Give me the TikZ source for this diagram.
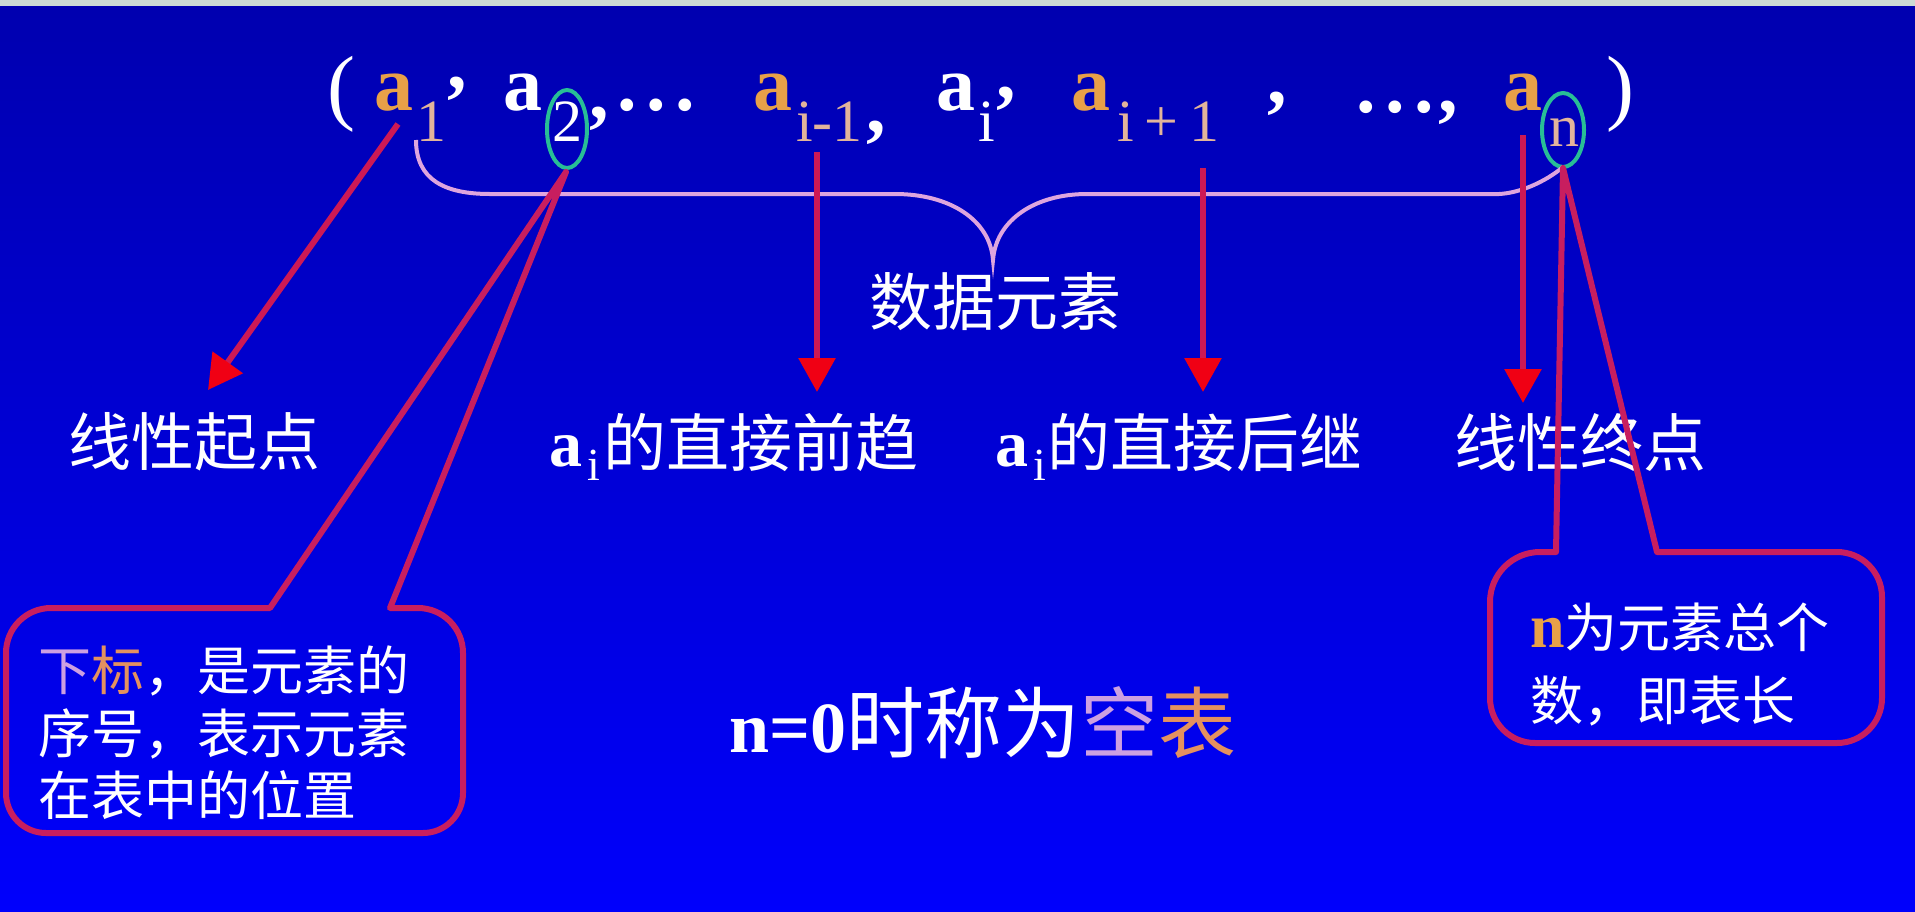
\documentclass[tikz,border=0pt]{standalone}
\usepackage{fontspec}
\setmainfont{Liberation Serif}
\newfontfamily\cjk{Noto Sans CJK SC}
\usetikzlibrary{arrows.meta}
\definecolor{bgtop}{RGB}{0,0,175}
\definecolor{bgbot}{RGB}{0,0,252}
\definecolor{strip}{RGB}{204,219,212}
\definecolor{orangeA}{RGB}{232,160,72}
\definecolor{tan}{RGB}{226,180,155}
\definecolor{bracec}{RGB}{222,165,222}
\definecolor{ellc}{RGB}{40,190,150}
\definecolor{shaft}{RGB}{205,25,85}
\definecolor{headc}{RGB}{240,0,20}
\definecolor{boxc}{RGB}{200,30,95}
\definecolor{lav}{RGB}{205,160,225}
\definecolor{ora}{RGB}{228,145,95}
\newcommand\fsz[1]{\fontsize{#1}{#1}\selectfont}
\begin{document}
\begin{tikzpicture}[x=1pt,y=-1pt,
  txt/.style={inner sep=0pt,outer sep=0pt,text=white},
  fa/.style={txt,anchor=base west,font=\fsz{78}\bfseries},
  fs/.style={txt,anchor=base west,font=\fsz{60}},
  paren/.style={txt,anchor=base west,font=\fsz{84}},
  lbl/.style={txt,font=\cjk\fsz{63}},
  arr/.style={draw=shaft,line width=6pt,-{Triangle[width=36pt,length=34pt,color=headc]}},
  boxline/.style={draw=boxc,line width=6pt,line join=round},
  ell/.style={draw=ellc,line width=4pt},
  bracel/.style={draw=bracec,line width=4pt}]
\shade[top color=bgtop,bottom color=bgbot] (0,0) rectangle (1915,911);
\fill[strip] (0,0) rectangle (1915,6);
\useasboundingbox (0,0) rectangle (1915,911);

% formula
\node[paren] (lp) at (327,114) {(};
\node[fa,text=orangeA] (a1) at (374,110) {a};
\node[fs,text=tan] (s1) at (416,141) {1};
\node[fa] (c1) at (447,88) {,};
\node[fa] (a2) at (503,110) {a};
\node[fs] (s2) at (552,141) {2};
\node[fa] (c2) at (589,118) {,};
\node[fa] (d1) at (617,110) {.\hspace{10pt}.\hspace{10pt}.};
\node[fa,text=orangeA] (a3) at (753,110) {a};
\node[fs,text=tan] (s3) at (796,141) {i-1};
\node[fa] (c3) at (866,132) {,};
\node[fa] (a4) at (936,110) {a};
\node[fs] (s4) at (978,141) {i};
\node[fa] (c4) at (996,98) {,};
\node[fa,text=orangeA] (a5) at (1071,110) {a};
\node[fs,text=tan] (s5) at (1117,141) {i\hspace{0.18em}+\hspace{0.18em}1};
\node[fa] (c5) at (1267,103) {,};
\node[fa] (d2) at (1356,112) {.\hspace{10pt}.\hspace{10pt}.\hspace{4pt},};
\node[fa,text=orangeA] (a6) at (1503,110) {a};
\node[fs,text=tan] (s6) at (1549,146) {n};
\node[paren] (rp) at (1606,114) {)};

% ellipses
\draw[ell] (567,129) ellipse [x radius=20,y radius=39];
\draw[ell] (1563,130) ellipse [x radius=21,y radius=37];

% brace
\draw[bracel] (416,140) .. controls (416,180) and (445,194) .. (490,194) -- (895,194)
  .. controls (950,194) and (990,220) .. (993,260)
  .. controls (996,220) and (1035,194) .. (1087,194) -- (1499,194)
  .. controls (1520,193) and (1545,182) .. (1563,167);
\node[lbl] (data) at (995,302) {数据元素};

% labels
\node[lbl] (start) at (194,442) {线性起点};
\node[txt,anchor=base west] (pre) at (549,466) {{\fsz{66}\bfseries a}\hspace{5pt}\raisebox{-14pt}{\fsz{46}i}\hspace{4pt}{\cjk\fsz{63}的直接前趋}};
\node[txt,anchor=base west] (suc) at (995,466) {{\fsz{66}\bfseries a}\hspace{5pt}\raisebox{-14pt}{\fsz{46}i}\hspace{2pt}{\cjk\fsz{63}的直接后继}};
\node[lbl] (end) at (1580,442) {线性终点};

% arrows
\coordinate (t1) at (398,124); \coordinate (h1) at (208,390);
\coordinate (t2) at (817,152); \coordinate (h2) at (817,392);
\coordinate (t3) at (1203,168); \coordinate (h3) at (1203,392);
\coordinate (t4) at (1523,135); \coordinate (h4) at (1523,403);
\draw[arr] (t1) -- (h1);
\draw[arr] (t2) -- (h2);
\draw[arr] (t3) -- (h3);
\draw[arr] (t4) -- (h4);

% left callout
\coordinate (apexL) at (566,172);
\draw[boxline] (390,608) -- (418,608) arc[start angle=270,end angle=360,radius=45]
  -- (463,793) arc[start angle=0,end angle=90,radius=40]
  -- (46,833) arc[start angle=90,end angle=180,radius=40]
  -- (6,653) arc[start angle=180,end angle=270,radius=45]
  -- (270,608) -- (apexL) -- cycle;
\node[txt,anchor=base west] (lb1) at (38,690) {\cjk\fsz{53}{\color{lav}下}{\color{ora}标}，是元素的};
\node[txt,anchor=base west] (lb2) at (38,753) {\cjk\fsz{53}序号，表示元素};
\node[txt,anchor=base west] (lb3) at (38,815) {\cjk\fsz{53}在表中的位置};

% right callout
\coordinate (apexR) at (1563,168);
\draw[boxline] (1657,552) -- (1837,552) arc[start angle=-90,end angle=0,radius=45]
  -- (1882,698) arc[start angle=0,end angle=90,radius=45]
  -- (1535,743) arc[start angle=90,end angle=180,radius=45]
  -- (1490,602) arc[start angle=180,end angle=270,radius=50]
  -- (1556,552) -- (apexR) -- cycle;
\node[txt,anchor=base west] (rb1) at (1530,647) {{\fsz{62}\bfseries\color{orangeA}n}{\cjk\fsz{53}为元素总个}};
\node[txt,anchor=base west] (rb2) at (1530,720) {\cjk\fsz{53}数，即表长};

% empty list
\node[txt,anchor=base west] (empty) at (729,752) {{\fsz{72}\bfseries n=0}{\cjk\fsz{78}时称为{\color{lav}空}{\color{ora}表}}};
\end{tikzpicture}
\end{document}
